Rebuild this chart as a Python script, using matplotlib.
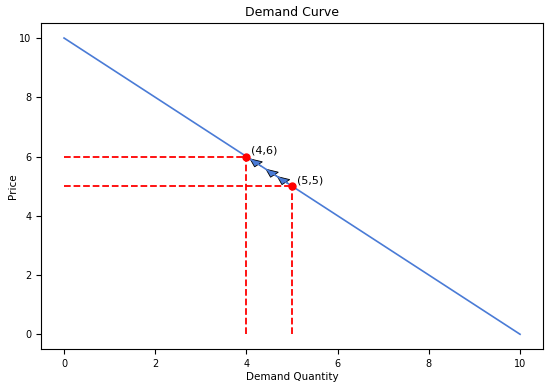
import matplotlib
matplotlib.use("Agg")
import matplotlib.pyplot as plt

# 需求曲线数据
quantity = [0, 10]
price = [10, 0]

# 两个标记点
point_q = [4, 5]
point_p = [6, 5]
point_labels = ["(4,6)", "(5,5)"]

# 箭头尖端位置 (沿曲线从 (5,5) 指向 (4,6))
arrow_tip_q = [4.08, 4.43, 4.68]
arrow_tip_p = [5.92, 5.57, 5.32]
arrow_step = 0.24

plt.figure(figsize=(5.5, 3.87), dpi=100)

plt.plot(quantity, price, color="#4a7bd6", linewidth=1.2)

for q, p, label in zip(point_q, point_p, point_labels):
    plt.plot([0, q], [p, p], "r--", linewidth=1.3)
    plt.plot([q, q], [0, p], "r--", linewidth=1.3)
    plt.plot(q, p, "o", color="red", markersize=5)
    plt.text(q + 0.1, p + 0.1, label, fontsize=8)

for tq, tp in zip(arrow_tip_q, arrow_tip_p):
    plt.arrow(tq + arrow_step, tp - arrow_step, -arrow_step, arrow_step,
              width=0.001, head_width=0.24, head_length=0.26,
              length_includes_head=True, fc="#4a7bd6", ec="black", linewidth=0.6)

plt.title("Demand Curve", fontsize=9, pad=5)
plt.xlabel("Demand Quantity", fontsize=7.5, labelpad=2)
plt.ylabel("Price", fontsize=7.5, labelpad=1)
plt.xticks(fontsize=7)
plt.yticks(fontsize=7)

plt.subplots_adjust(left=0.075, right=0.987, top=0.94, bottom=0.098)
plt.savefig("out.png")
